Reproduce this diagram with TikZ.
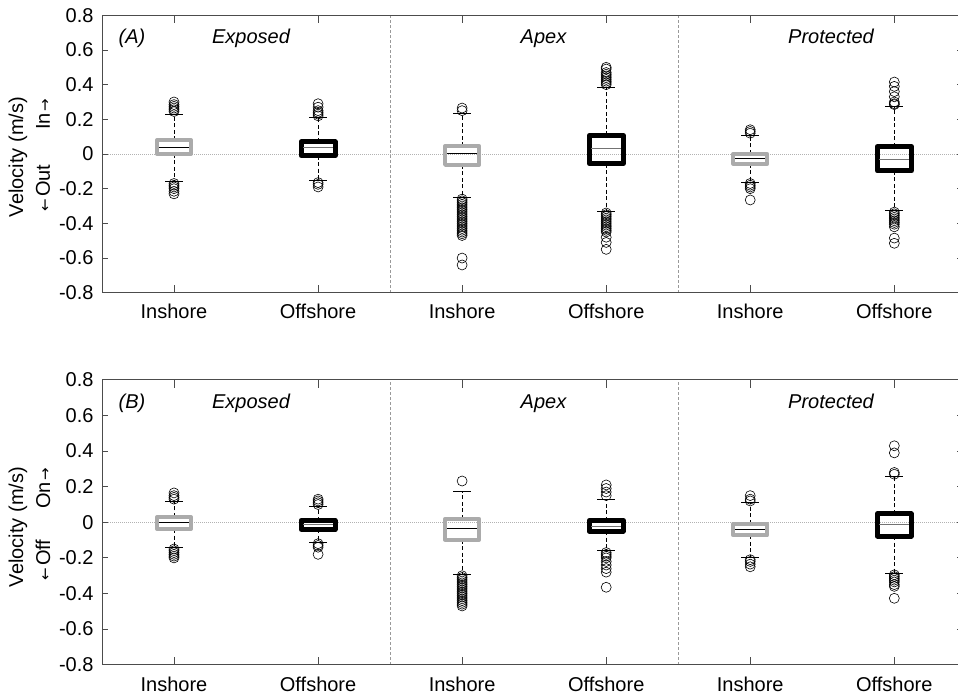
\documentclass[tikz,border=0pt]{standalone}
\usepackage{fontspec}
\setmainfont{Liberation Sans}
\newfontfamily\arrowfont{DejaVu Sans}

% one box-and-whisker: #1 x, #2 q1, #3 median, #4 q3, #5 lower whisker,
% #6 upper whisker, #7 box style, #8 median style, #9 outliers
\newcommand\bwplot[9]{%
  \draw[whisk] (#1,#4) -- (#1,#6);
  \draw[whisk] (#1,#2) -- (#1,#5);
  \draw[capline] ({#1-9},#6) -- ({#1+9},#6);
  \draw[capline] ({#1-9},#5) -- ({#1+9},#5);
  \foreach \o in {#9} \node[outl] at (#1,\o) {};
  \draw[#7] ({#1-17},#2) rectangle ({#1+17},#4);
  \draw[#8] ({#1-15},#3) -- ({#1+15},#3);
}

% axes, ticks, separators and group titles of one panel (y in m/s)
\newcommand\panelframe[1]{%
  \draw[zeroline] (102,0) -- (963,0);
  \draw[sepline] (390.1,-0.8) -- (390.1,0.8);
  \draw[sepline] (678.2,-0.8) -- (678.2,0.8);
  \foreach \v/\t in {0.8/0.8,0.6/0.6,0.4/0.4,0.2/0.2,0/0,-0.2/-0.2,-0.4/-0.4,-0.6/-0.6,-0.8/-0.8}{
    \draw[tickline] (102,\v) -- (108,\v);
    \draw[tickline] (957,\v) -- (963,\v);
    \node[anchor=east] at (97,\v) {\t};
  }
  \foreach \x/\t in {174/Inshore,318.1/Offshore,462.1/Inshore,606.2/Offshore,750.2/Inshore,894.3/Offshore}{
    \draw[tickline] (\x,0.8) -- (\x,0.754);
    \draw[tickline] (\x,-0.8) -- (\x,-0.754);
    \node[anchor=base] at (\x,-0.95) {\t};
  }
  \draw[axisline] (102,-0.8) rectangle (963,0.8);
  \node[anchor=base, font=\fontsize{20}{24}\selectfont\itshape] at (132,0.64) {#1};
  \node[anchor=base, font=\fontsize{20}{24}\selectfont\itshape] at (251,0.64) {Exposed};
  \node[anchor=base, font=\fontsize{20}{24}\selectfont\itshape] at (543.5,0.64) {Apex};
  \node[anchor=base, font=\fontsize{20}{24}\selectfont\itshape] at (831,0.64) {Protected};
}

\newcommand\sarr[1]{{\arrowfont\fontsize{15}{15}\selectfont #1}}

\begin{document}
\begin{tikzpicture}[x=1pt,y=-1pt, font=\fontsize{20}{24}\selectfont,
  axisline/.style={draw=black!70, line width=1pt},
  tickline/.style={draw=black!70, line width=0.9pt},
  sepline/.style={draw=black!40, line width=0.8pt, dash pattern=on 3pt off 2pt},
  zeroline/.style={draw=black!30, line width=0.7pt, dash pattern=on 1pt off 1pt},
  whisk/.style={draw=black, line width=0.8pt, dash pattern=on 4pt off 2.5pt},
  capline/.style={draw=black, line width=0.8pt},
  outl/.style={circle, draw=black, line width=0.6pt, inner sep=0pt, minimum size=10pt},
  inbox/.style={draw=black!33, line width=4pt, line join=round},
  offbox/.style={draw=black, line width=5pt, line join=round},
  inmed/.style={draw=black, line width=1pt},
  offmed/.style={draw=black!55, line width=1pt},
  ]
\useasboundingbox (0,0) rectangle (958,695);
\clip (0,0) rectangle (958,695);

% axis titles
\node[rotate=90] (ylabA) at (18,157) {Velocity (m/s)};
\node[rotate=90] (dirA) at (43,155) {\sarr{←}\hspace{2pt}Out\hspace{35pt}In\hspace{2pt}\sarr{→}};
\node[rotate=90] (ylabB) at (18,527) {Velocity (m/s)};
\node[rotate=90] (dirB) at (43,524) {\sarr{←}\hspace{2pt}Off\hspace{31pt}On\hspace{2pt}\sarr{→}};

% (A) along-shore velocity
\begin{scope}[shift={(0,154)}, yscale=-173.4]
  \panelframe{(A)}
  \bwplot{174}{0.0}{0.036}{0.079}{-0.156}{0.23}{inbox}{inmed}
    {0.245,0.255,0.265,0.275,0.285,0.30,-0.17,-0.18,-0.19,-0.20,-0.215,-0.23}
  \bwplot{318.1}{-0.01}{0.035}{0.07}{-0.155}{0.21}{offbox}{offmed}
    {0.22,0.23,0.24,0.25,0.27,0.29,-0.165,-0.175,-0.19}
  \bwplot{462.1}{-0.063}{0.004}{0.046}{-0.252}{0.235}{inbox}{inmed}
    {0.25,0.265,-0.26,-0.27,-0.28,-0.29,-0.30,-0.31,-0.32,-0.33,-0.34,-0.35,-0.36,-0.37,-0.38,-0.39,-0.40,-0.41,-0.42,-0.43,-0.44,-0.45,-0.46,-0.47,-0.60,-0.64}
  \bwplot{606.2}{-0.055}{0.033}{0.107}{-0.33}{0.385}{offbox}{offmed}
    {0.40,0.41,0.42,0.43,0.44,0.45,0.46,0.47,0.49,0.50,-0.34,-0.35,-0.36,-0.37,-0.38,-0.39,-0.40,-0.41,-0.42,-0.43,-0.44,-0.45,-0.48,-0.51,-0.55}
  \bwplot{750.2}{-0.056}{-0.025}{0.0}{-0.163}{0.11}{inbox}{inmed}
    {0.12,0.13,0.14,-0.17,-0.18,-0.19,-0.20,-0.265}
  \bwplot{894.3}{-0.098}{-0.029}{0.043}{-0.327}{0.277}{offbox}{offmed}
    {0.285,0.29,0.30,0.33,0.36,0.39,0.415,-0.335,-0.345,-0.355,-0.365,-0.375,-0.385,-0.395,-0.405,-0.42,-0.485,-0.515}
\end{scope}

% (B) cross-shore velocity
\begin{scope}[shift={(0,522.3)}, yscale=-178]
  \panelframe{(B)}
  \bwplot{174}{-0.038}{0.0}{0.03}{-0.14}{0.116}{inbox}{inmed}
    {0.13,0.14,0.15,0.165,-0.15,-0.16,-0.17,-0.18,-0.19,-0.20}
  \bwplot{318.1}{-0.04}{-0.015}{0.01}{-0.112}{0.09}{offbox}{offmed}
    {0.10,0.11,0.12,0.13,-0.12,-0.13,-0.14,-0.18}
  \bwplot{462.1}{-0.098}{-0.034}{0.02}{-0.292}{0.176}{inbox}{inmed}
    {0.232,-0.30,-0.31,-0.32,-0.33,-0.34,-0.35,-0.36,-0.37,-0.38,-0.39,-0.40,-0.41,-0.42,-0.43,-0.44,-0.45,-0.46,-0.47}
  \bwplot{606.2}{-0.05}{-0.025}{0.01}{-0.16}{0.13}{offbox}{offmed}
    {0.15,0.17,0.19,0.21,-0.17,-0.18,-0.19,-0.20,-0.22,-0.24,-0.26,-0.28,-0.365}
  \bwplot{750.2}{-0.073}{-0.043}{-0.008}{-0.199}{0.112}{inbox}{inmed}
    {0.12,0.13,0.15,-0.21,-0.22,-0.235,-0.25}
  \bwplot{894.3}{-0.077}{-0.01}{0.047}{-0.287}{0.256}{offbox}{offmed}
    {0.27,0.28,0.39,0.43,-0.295,-0.305,-0.315,-0.325,-0.335,-0.35,-0.36,-0.427}
\end{scope}
\end{tikzpicture}
\end{document}
